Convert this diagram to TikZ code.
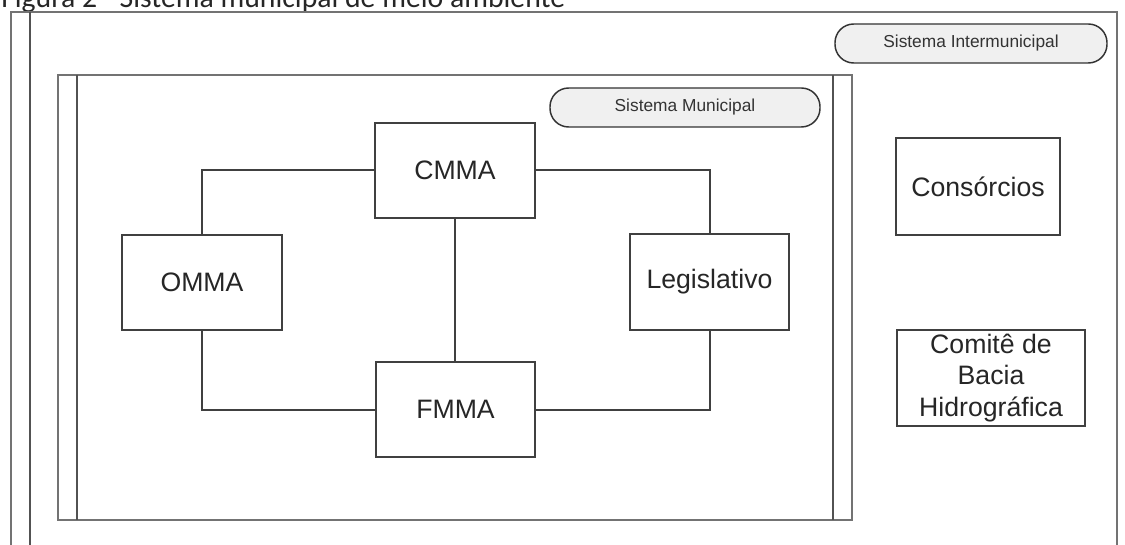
\documentclass[tikz,border=0pt]{standalone}
\usepackage{fontspec}
\setmainfont{Liberation Sans}
\newfontfamily\capfont{Carlito}
\begin{document}
\begin{tikzpicture}[x=0.75pt,y=-0.75pt,
  frameline/.style={draw=black!55,line width=1.7pt},
  framelineb/.style={draw=black!68,line width=1.4pt},
  box/.style={draw=black!75,line width=1.5pt,rectangle,inner sep=0pt,align=center,
    font=\fontsize{20}{23.5}\selectfont,text=black!85},
  pill/.style={draw=black!80,line width=1.1pt,fill=black!6,rounded corners=14pt,inner sep=0pt,
    font=\fontsize{13}{15}\selectfont,text=black!80},
  conn/.style={draw=black!75,line width=1.5pt}]
\useasboundingbox (0,0) rectangle (1125,545);
% caption (partly cut off, as in the reference)
\node[anchor=base west,inner sep=0pt,font=\capfont\fontsize{22.3}{25}\selectfont,text=black!85] (cap) at (1,8) {Figura 2 - Sistema municipal de meio ambiente};
% outer frame
\draw[frameline] (11,560) -- (11,12) -- (1117,12) -- (1117,560);
\draw[framelineb] (30,12) -- (30,560);
% inner frame
\draw[frameline] (58,75) rectangle (852,520);
\draw[framelineb] (77,75) -- (77,520);
\draw[framelineb] (833,75) -- (833,520);
% pills
\node[pill,minimum width=204pt,minimum height=29.25pt] (pinter) at (971,43.5) {Sistema Intermunicipal};
\node[pill,minimum width=202.5pt,minimum height=29.25pt] (pmun) at (685,107.5) {Sistema Municipal};
% boxes
\node[box,minimum width=120pt,minimum height=71.25pt] (cmma) at (455,170.5) {CMMA};
\node[box,minimum width=120pt,minimum height=71.25pt] (omma) at (202,282.5) {OMMA};
\node[box,minimum width=119.25pt,minimum height=72pt] (leg) at (709.5,282) {Legislativo};
\node[box,minimum width=119.25pt,minimum height=71.25pt] (fmma) at (455.5,409.5) {FMMA};
\node[box,minimum width=123pt,minimum height=72.75pt] (cons) at (978,186.5) {Consórcios};
\node[box,minimum width=141pt,minimum height=72pt] (comite) at (991,378) {Comitê de\\Bacia\\Hidrográfica};
% connectors
\draw[conn] (cmma.west) -| (omma.north);
\draw[conn] (cmma.east) -| (leg.north);
\draw[conn] (cmma.south) -- (fmma.north -| cmma.south);
\draw[conn] (omma.south) |- (fmma.west);
\draw[conn] (fmma.east) -| (leg.south);
\end{tikzpicture}
\end{document}
